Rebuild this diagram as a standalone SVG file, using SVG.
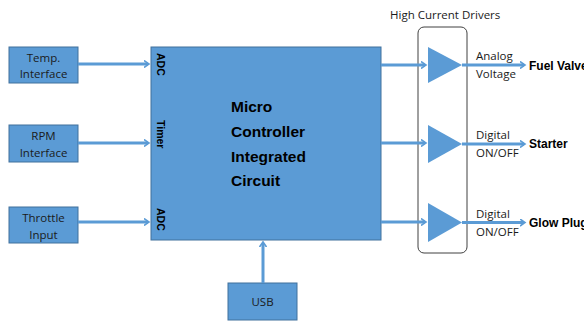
<svg xmlns="http://www.w3.org/2000/svg" width="584" height="323" viewBox="0 0 584 323">
<style>
.box{fill:#5B9BD5;stroke:#41719C;stroke-width:1}
.lbl{font-family:"Open Sans","Liberation Sans",sans-serif;font-size:11.5px;fill:#1a1a1a}
.bold{font-family:"Liberation Sans",sans-serif;font-weight:bold;font-size:12px;fill:#000}
.main{font-family:"Liberation Sans",sans-serif;font-weight:bold;font-size:15.5px;fill:#000}
.side{font-family:"Liberation Sans",sans-serif;font-weight:bold;font-size:10.5px;fill:#000}
.wire{stroke:#5B9BD5;stroke-width:3;fill:none}
</style>
<defs>
<marker id="ah" markerWidth="8" markerHeight="8" refX="4" refY="4" orient="auto" markerUnits="userSpaceOnUse">
<path d="M0,0.5 L5,4 L0,7.5" fill="none" stroke="#5B9BD5" stroke-width="1.6"/>
</marker>
</defs>
<g id="temp"><rect class="box" x="9" y="47" width="69" height="36"/><text class="lbl" x="43.5" y="62" text-anchor="middle">Temp.</text><text class="lbl" x="43.5" y="78" text-anchor="middle">Interface</text></g>
<g id="rpm"><rect class="box" x="9" y="125" width="69" height="37"/><text class="lbl" x="43.5" y="140" text-anchor="middle">RPM</text><text class="lbl" x="43.5" y="157" text-anchor="middle">Interface</text></g>
<g id="throttle"><rect class="box" x="9" y="207" width="69" height="36"/><text class="lbl" x="43.5" y="222" text-anchor="middle">Throttle</text><text class="lbl" x="43.5" y="239" text-anchor="middle">Input</text></g>
<g id="mcu"><rect class="box" x="151" y="47" width="230" height="193"/>
<text class="side" transform="translate(157,53) rotate(90)">ADC</text>
<text class="side" transform="translate(157,120) rotate(90)">Timer</text>
<text class="side" transform="translate(157,208) rotate(90)">ADC</text>
<text class="main" x="231" y="112">Micro</text>
<text class="main" x="231" y="137">Controller</text>
<text class="main" x="231" y="162">Integrated</text>
<text class="main" x="231" y="186">Circuit</text>
</g>
<g id="usb"><rect class="box" x="228" y="283" width="69" height="37"/><text class="lbl" x="262.5" y="306" text-anchor="middle">USB</text></g>
<g id="drivers">
<rect x="418" y="27" width="49" height="226" rx="6" fill="none" stroke="#404040" stroke-width="1"/>
<text class="lbl" x="390" y="19">High Current Drivers</text>
<polygon points="428,47 462,65 428,83" fill="#5B9BD5"/>
<polygon points="428,125 462,144 428,163" fill="#5B9BD5"/>
<polygon points="428,203 462,222.5 428,242" fill="#5B9BD5"/>
</g>
<g id="connectors">
<line class="wire" x1="78" y1="64" x2="148" y2="64" marker-end="url(#ah)"/>
<line class="wire" x1="78" y1="143" x2="148" y2="143" marker-end="url(#ah)"/>
<line class="wire" x1="78" y1="222" x2="148" y2="222" marker-end="url(#ah)"/>
<line class="wire" x1="263" y1="283" x2="263" y2="243" marker-end="url(#ah)"/>
<line class="wire" x1="381" y1="65" x2="425" y2="65" marker-end="url(#ah)"/>
<line class="wire" x1="381" y1="143" x2="425" y2="143" marker-end="url(#ah)"/>
<line class="wire" x1="381" y1="222" x2="425" y2="222" marker-end="url(#ah)"/>
<line class="wire" x1="462" y1="65" x2="524" y2="65" marker-end="url(#ah)"/>
<line class="wire" x1="462" y1="144" x2="524" y2="144" marker-end="url(#ah)"/>
<line class="wire" x1="462" y1="222.5" x2="524" y2="222.5" marker-end="url(#ah)"/>
</g>
<g id="outputs">
<text class="lbl" x="476" y="60">Analog</text><text class="lbl" x="476" y="78">Voltage</text>
<text class="bold" x="529" y="70">Fuel Valve</text>
<text class="lbl" x="476" y="139">Digital</text><text class="lbl" x="476" y="157">ON/OFF</text>
<text class="bold" x="529" y="148">Starter</text>
<text class="lbl" x="476" y="218">Digital</text><text class="lbl" x="476" y="236">ON/OFF</text>
<text class="bold" x="529" y="227">Glow Plug</text>
</g>
</svg>
